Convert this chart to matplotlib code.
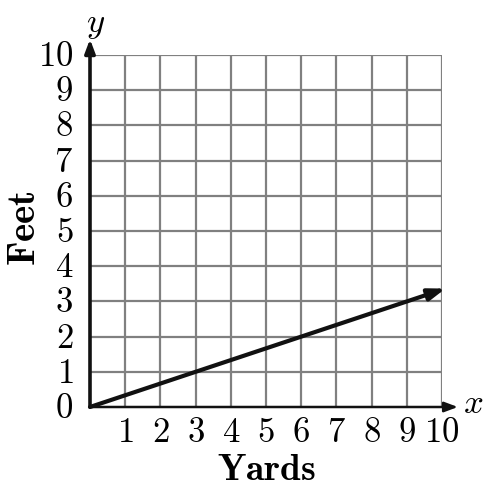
import matplotlib
matplotlib.use("Agg")
import matplotlib.pyplot as plt

plt.rcParams['mathtext.fontset'] = 'cm'

yards = [0, 10]
feet = [0, 3.33]
ticks = [1, 2, 3, 4, 5, 6, 7, 8, 9, 10]
xlabel = 'Yards'
ylabel = 'Feet'

W, H = 485, 489
fig = plt.figure(figsize=(W / 100, H / 100), dpi=100)
ax = fig.add_axes([90 / W, (H - 408) / H, 352 / W, 352 / H])
ax.set_xlim(0, 10)
ax.set_ylim(0, 10)

for s in ax.spines.values():
    s.set_visible(False)

# grid
for t in ticks:
    ax.plot([t, t], [0, 10], color='#808080', lw=1.6, zorder=1)
    ax.plot([0, 10], [t, t], color='#808080', lw=1.6, zorder=1)

# axes with arrows
ax.annotate('', xy=(10.45, 0), xytext=(0, 0), annotation_clip=False,
            arrowprops=dict(arrowstyle='-|>,head_length=0.8,head_width=0.3',
                            color='#111111', lw=1.8, shrinkA=0, shrinkB=0), zorder=3)
ax.annotate('', xy=(0, 10.45), xytext=(0, 0), annotation_clip=False,
            arrowprops=dict(arrowstyle='-|>,head_length=0.8,head_width=0.3',
                            color='#111111', lw=2.6, shrinkA=0, shrinkB=0), zorder=3)

# data line
ax.annotate('', xy=(yards[1] + 0.1, feet[1] + 0.035), xytext=(yards[0], feet[0]),
            annotation_clip=False,
            arrowprops=dict(arrowstyle='-|>,head_length=1.0,head_width=0.35',
                            color='#111111', lw=3, shrinkA=0, shrinkB=0), zorder=4)

ax.set_xticks(ticks)
ax.set_xticklabels(['$%d$' % t for t in ticks], fontsize=25)
ax.set_yticks([0] + ticks)
ax.set_yticklabels(['$%d$' % t for t in [0] + ticks], fontsize=25)
ax.tick_params(length=0)
ax.tick_params(axis='x', pad=5)
ax.tick_params(axis='y', pad=12)
for lab in ax.get_yticklabels():
    lab.set_verticalalignment('center')

ax.set_xlabel(r'$\mathbf{%s}$' % xlabel, fontsize=27, labelpad=2)
fig.text(24 / W, 1 - 228 / H, r'$\mathbf{%s}$' % ylabel, fontsize=28,
         rotation=90, ha='center', va='center')

ax.text(10.6, 0.15, '$x$', fontsize=25, ha='left', va='center')
ax.text(0.15, 10.9, '$y$', fontsize=25, ha='center', va='center')

fig.savefig('out.png', dpi=100)
